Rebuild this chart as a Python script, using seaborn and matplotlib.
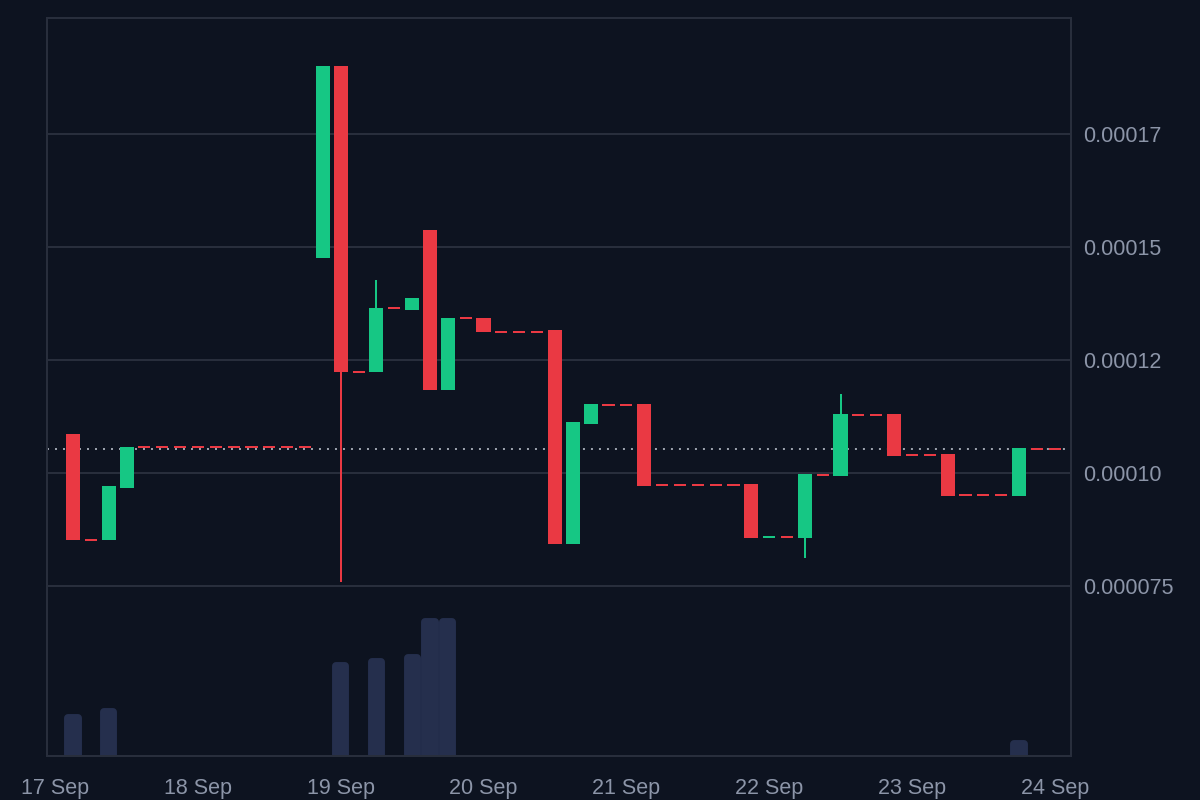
import numpy as np
import pandas as pd
import matplotlib
matplotlib.use("Agg")
import matplotlib.pyplot as plt
import matplotlib.dates as mdates
import seaborn as sns

# 3-hour candles, 17 Sep 03:00 .. 23 Sep 24:00
times = pd.date_range("2024-09-17 03:00", periods=56, freq="3h")

opens = ([0.0001086, 0.0000852, 0.0000852, 0.0000967] + [0.0001058] * 10 +
         [0.0001476, 0.0001900, 0.0001224, 0.0001224, 0.0001365, 0.0001361,
          0.0001538, 0.0001184, 0.0001343, 0.0001343] + [0.0001313] * 3 +
         [0.0001316, 0.0000843, 0.0001108] + [0.0001150] * 2 + [0.0001153] +
         [0.0000973] * 5 + [0.0000976, 0.0000857, 0.0000858, 0.0000856,
                            0.0000996, 0.0000993] + [0.0001128] * 2 +
         [0.0001131] + [0.0001040] * 2 + [0.0001042] + [0.0000951] * 3 +
         [0.0000949] + [0.0001053] * 2)
closes = ([0.0000852, 0.0000852, 0.0000971, 0.0001058] + [0.0001058] * 10 +
          [0.0001900, 0.0001224, 0.0001224, 0.0001365, 0.0001365, 0.0001387,
           0.0001184, 0.0001343, 0.0001343, 0.0001312] + [0.0001313] * 3 +
          [0.0000843, 0.0001113, 0.0001153] + [0.0001150] * 2 + [0.0000971] +
          [0.0000973] * 5 + [0.0000856, 0.0000858, 0.0000858, 0.0000998,
                             0.0000996, 0.0001131] + [0.0001128] * 2 +
          [0.0001038] + [0.0001040] * 2 + [0.0000949] + [0.0000951] * 3 +
          [0.0001055] + [0.0001053] * 2)
highs = ([0.0001086, 0.0000852, 0.0000971, 0.0001058] + [0.0001058] * 10 +
         [0.0001900, 0.0001900, 0.0001224, 0.0001427, 0.0001365, 0.0001387,
          0.0001538, 0.0001343, 0.0001343, 0.0001343] + [0.0001313] * 3 +
         [0.0001316, 0.0001113, 0.0001153] + [0.0001150] * 2 + [0.0001153] +
         [0.0000973] * 5 + [0.0000976, 0.0000858, 0.0000858, 0.0000998,
                            0.0000996, 0.0001175] + [0.0001128] * 2 +
         [0.0001131] + [0.0001040] * 2 + [0.0001042] + [0.0000951] * 3 +
         [0.0001055] + [0.0001053] * 2)
lows = ([0.0000852, 0.0000852, 0.0000852, 0.0000967] + [0.0001058] * 10 +
        [0.0001476, 0.0000759, 0.0001224, 0.0001224, 0.0001365, 0.0001361,
         0.0001184, 0.0001184, 0.0001343, 0.0001312] + [0.0001313] * 3 +
        [0.0000843, 0.0000843, 0.0001108] + [0.0001150] * 2 + [0.0000971] +
        [0.0000973] * 5 + [0.0000856, 0.0000857, 0.0000858, 0.0000812,
                           0.0000996, 0.0000993] + [0.0001128] * 2 +
        [0.0001038] + [0.0001040] * 2 + [0.0000949] + [0.0000951] * 3 +
        [0.0000949] + [0.0001053] * 2)
volumes = [0.0] * 56
for i, v in {0: 4.2, 2: 4.8, 15: 9.4, 17: 9.8, 19: 10.2, 20: 13.8, 21: 13.8, 53: 1.6}.items():
    volumes[i] = v

last_price = 0.0001053
ytick_vals = [0.000075, 0.0001, 0.000125, 0.00015, 0.000175]
ytick_labels = ["0.000075", "0.00010", "0.00012", "0.00015", "0.00017"]
day_ticks = pd.date_range("2024-09-17", "2024-09-24", freq="D")

bg = "#0d1320"
green = "#16c784"
red = "#ea3943"
grid_c = "#282e3c"
text_c = "#8c95a8"
vol_c = "#252f4d"

sns.set_theme(style="dark", rc={"axes.facecolor": bg, "figure.facecolor": bg,
                                "axes.edgecolor": grid_c, "grid.color": grid_c})
plt.rcParams["font.family"] = ["Liberation Sans", "DejaVu Sans"]

df = pd.DataFrame({"t": times, "open": opens, "high": highs, "low": lows,
                   "close": closes, "volume": volumes})
df["x"] = mdates.date2num(df["t"])
df["flat"] = (df["close"] - df["open"]).abs() < 2e-7
df["color"] = np.where(df["close"] > df["open"], green, red)

fig = plt.figure(figsize=(12, 8), dpi=100)
ax = fig.add_axes([47 / 1200, 44 / 800, 1024 / 1200, 738 / 800])
vax = ax.twinx()

slot = 0.125
px = 2 / 1.389  # 2 pixels in points

# wicks
oc_max = df[["open", "close"]].max(axis=1)
oc_min = df[["open", "close"]].min(axis=1)
wk = df[(df["high"] > oc_max) | (df["low"] < oc_min)]
ax.vlines(wk["x"], wk["low"], wk["high"], colors=wk["color"], lw=px, zorder=3)
# bodies
body = df[~df["flat"]]
ax.bar(body["x"], body["close"] - body["open"], bottom=body["open"],
       width=slot * 0.79, color=body["color"], linewidth=0, zorder=4)
# flat candles as short dashes
fl = df[df["flat"]]
ax.hlines(fl["close"], fl["x"] - slot * 0.34, fl["x"] + slot * 0.34,
          colors=fl["color"], lw=px, zorder=4)

ax.axhline(last_price, color="#9aa0ab", lw=px, linestyle=(0, (1, 3)), zorder=2)

# volume with rounded tops
vv = df[df["volume"] > 0]
edge = 0.4
vax.bar(vv["x"], vv["volume"], bottom=-edge, width=slot * 0.52, color=vol_c,
        edgecolor=vol_c, linewidth=5.7, joinstyle="round", zorder=1)
vax.set_ylim(0, 73.8)
vax.set_yticks([])
vax.grid(False)
for s in vax.spines.values():
    s.set_visible(False)

x0 = mdates.date2num(pd.Timestamp("2024-09-17"))
ax.set_xlim(x0 - 0.0571, x0 + 7.1139)
ax.set_ylim(0.00003739, 0.00020066)
ax.yaxis.tick_right()
ax.set_yticks(ytick_vals)
ax.set_yticklabels(ytick_labels)
ax.set_xticks(mdates.date2num(day_ticks))
ax.xaxis.set_major_formatter(mdates.DateFormatter("%d %b"))
ax.grid(axis="y", color=grid_c, lw=px)
ax.grid(axis="x", visible=False)
ax.tick_params(axis="y", length=0, pad=8.6, labelsize=15.5, labelcolor=text_c)
ax.tick_params(axis="x", length=0, pad=16, labelsize=15.5, labelcolor=text_c)
for s in ax.spines.values():
    s.set_visible(True)
    s.set_color(grid_c)
    s.set_linewidth(px)
ax.set_zorder(vax.get_zorder() + 1)
ax.patch.set_visible(False)
vax.patch.set_visible(False)

fig.savefig("out.png", dpi=100, facecolor=bg)
